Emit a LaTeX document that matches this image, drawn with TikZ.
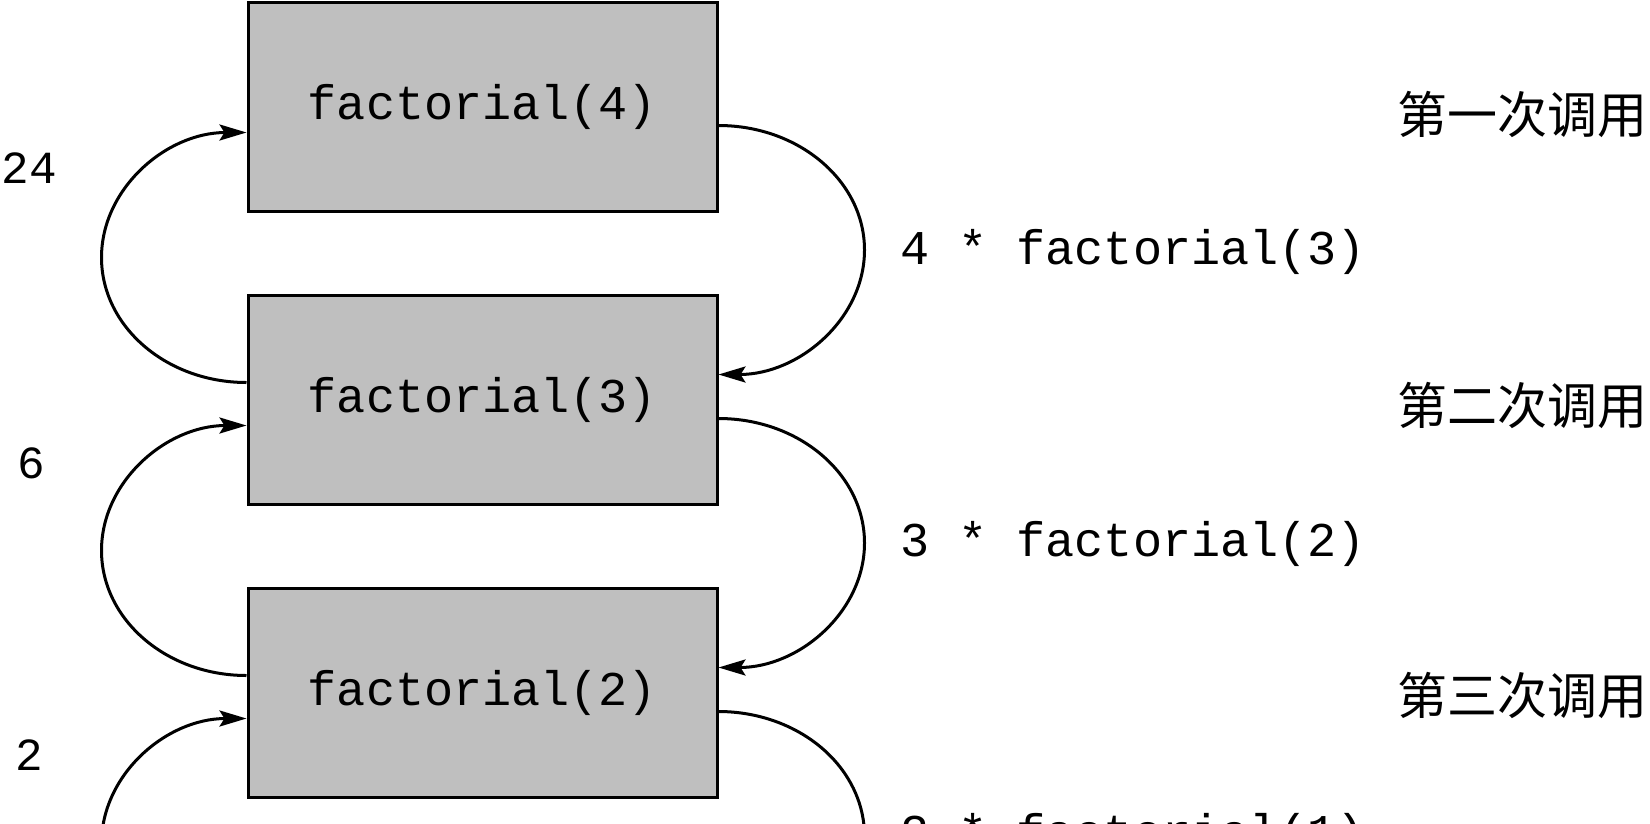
\documentclass[tikz,border=0pt]{standalone}
\usepackage{fontspec}
\setmonofont{Liberation Mono}
\newfontfamily\cjk{Noto Sans CJK SC}
\usetikzlibrary{arrows.meta}
\definecolor{boxgray}{RGB}{191,191,191}
\begin{document}
\begin{tikzpicture}[x=1pt,y=1pt,
  callbox/.style={draw=black,fill=boxgray,line width=3pt,minimum width=469pt,minimum height=209pt,inner sep=0pt,font=\fontsize{48.5}{50}\selectfont\ttfamily},
  codelabel/.style={anchor=west,inner sep=0pt,font=\fontsize{48.5}{50}\selectfont\ttfamily},
  numlabel/.style={inner sep=0pt,font=\fontsize{46}{50}\selectfont\ttfamily},
  cjklabel/.style={anchor=east,inner sep=0pt,font=\fontsize{50}{52}\selectfont\cjk},
  callarc/.style={line width=3pt,-{Stealth[length=27pt,width=16pt,inset=5pt]}},
  ]
\useasboundingbox (0,0) rectangle (1650,-823);
% boxes
\node[callbox] (b4) at (482.5,-106.5) {factorial(4)};
\node[callbox] (b3) at (482.5,-399.5) {factorial(3)};
\node[callbox] (b2) at (482.5,-692.5) {factorial(2)};
% off-picture ends
\coordinate (c1in) at (248,-1011);
\coordinate (c1out) at (717,-1006);
% right arcs (calls)
\draw[callarc] ([yshift=-125pt]b4.north east) arc[start angle=90,end angle=-90,x radius=146,y radius=124.5];
\draw[callarc] ([yshift=-125pt]b3.north east) arc[start angle=90,end angle=-90,x radius=146,y radius=124.5];
\draw[line width=3pt] ([yshift=-125pt]b2.north east) arc[start angle=90,end angle=-10,x radius=146,y radius=124.5];
% left arcs (returns)
\draw[callarc] ([yshift=-89pt]b3.north west) arc[start angle=270,end angle=90,x radius=145,y radius=125];
\draw[callarc] ([yshift=-89pt]b2.north west) arc[start angle=270,end angle=90,x radius=145,y radius=125];
\draw[callarc] ([yshift=-382pt]b2.north west) arc[start angle=270,end angle=90,x radius=145,y radius=125];
% labels
\node[codelabel] (l4) at (900,-252) {4 * factorial(3)};
\node[codelabel] (l3) at (900,-544) {3 * factorial(2)};
\node[codelabel] (l2) at (900,-836) {2 * factorial(1)};
\node[numlabel] (r24) at (29.5,-168) {24};
\node[numlabel] (r6) at (31.5,-463) {6};
\node[numlabel] (r2) at (29.5,-755) {2};
\node[cjklabel] (t1) at (1648,-114) {第一次调用};
\node[cjklabel] (t2) at (1648,-405) {第二次调用};
\node[cjklabel] (t3) at (1648,-695) {第三次调用};
\end{tikzpicture}
\end{document}
